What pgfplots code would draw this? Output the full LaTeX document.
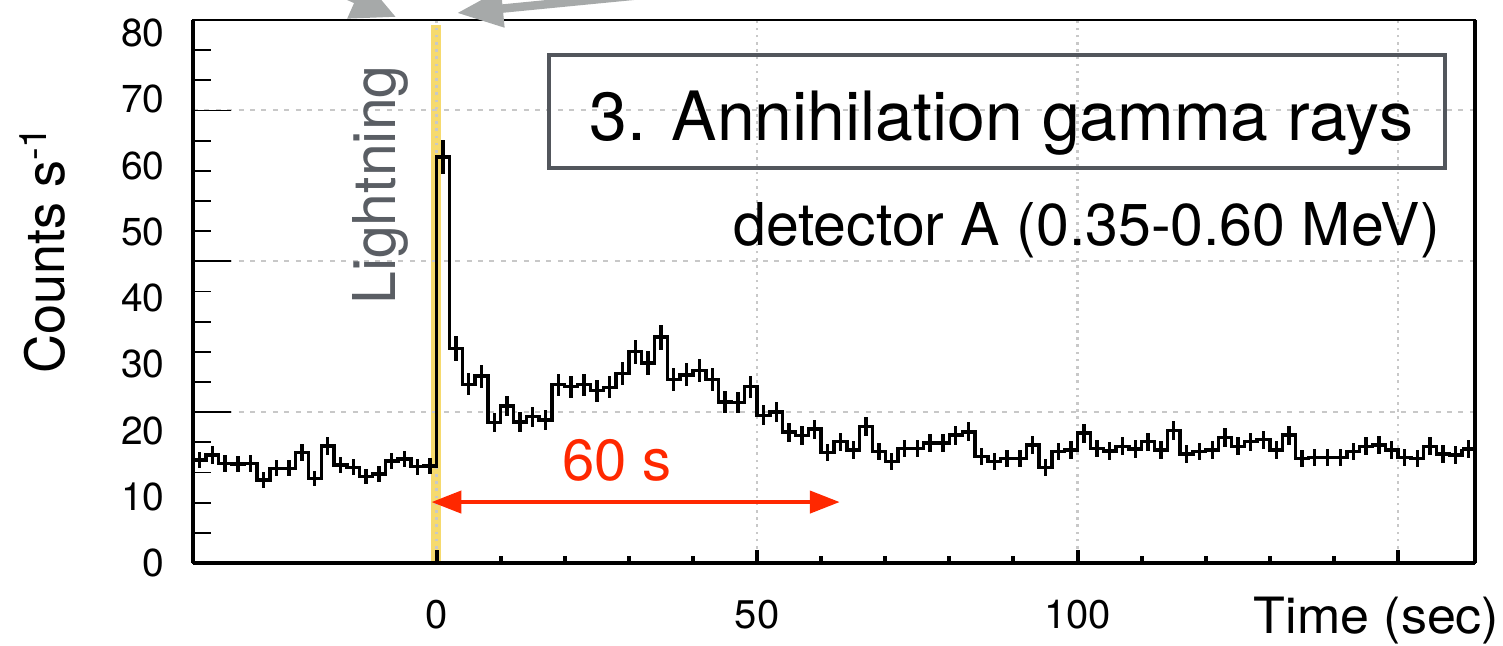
\documentclass[border=0pt]{standalone}
\usepackage{fontspec}
\setmainfont{TeX Gyre Heros}
\usepackage{pgfplots}
\pgfplotsset{compat=1.18}
\usepackage{pgfplotstable}
\usetikzlibrary{arrows.meta}
\definecolor{bandyellow}{RGB}{246,218,110}
\definecolor{arrowred}{RGB}{255,40,0}
\definecolor{annogray}{RGB}{166,169,169}
\definecolor{boxgray}{RGB}{82,86,92}
\definecolor{textgray}{RGB}{90,94,100}
\definecolor{gridgray}{RGB}{200,200,200}

% left bin edge, bin centre, rate (counts/s, in the units of the axis labels), error
\pgfplotstableread{
xl xc y err
-38 -37 15.55 1.27
-36 -35 16.3 1.30
-34 -33 15.05 1.25
-32 -31 14.94 1.25
-30 -29 15.05 1.25
-28 -27 12.53 1.14
-26 -25 14.29 1.22
-24 -23 14.29 1.22
-22 -21 16.65 1.32
-20 -19 12.78 1.15
-18 -17 17.66 1.36
-16 -15 14.79 1.24
-14 -13 14.44 1.23
-12 -11 13.03 1.17
-10 -9 13.43 1.18
-8 -7 15.4 1.27
-6 -5 15.7 1.28
-4 -3 14.54 1.23
-2 -1 14.64 1.23
0 1 61.3 2.53
2 3 32.4 1.84
4 5 26.97 1.68
6 7 28.2 1.71
8 9 21.2 1.49
10 11 23.7 1.57
12 13 21.3 1.49
14 15 22.1 1.52
16 17 21.6 1.50
18 19 26.9 1.68
20 21 26.6 1.66
22 23 26.9 1.68
24 25 26.0 1.65
26 27 26.5 1.66
28 29 28.6 1.73
30 31 31.9 1.82
32 33 30.2 1.78
34 35 34.1 1.89
36 37 27.7 1.70
38 39 28.4 1.72
40 41 29.1 1.74
42 43 27.7 1.70
44 45 24.3 1.59
46 47 24.2 1.59
48 49 26.6 1.66
50 51 22.3 1.52
52 53 22.8 1.54
54 55 19.75 1.43
56 57 19.25 1.42
58 59 20.2 1.45
60 61 16.65 1.32
62 63 18.3 1.38
64 65 17.06 1.33
66 67 20.6 1.47
68 69 16.8 1.32
70 71 15.3 1.26
72 73 17.3 1.34
74 75 17.3 1.34
76 77 18.1 1.37
78 79 18.1 1.37
80 81 19.3 1.42
82 83 19.8 1.43
84 85 16.05 1.29
86 87 15.3 1.26
88 89 15.8 1.29
90 91 15.8 1.29
92 93 17.8 1.36
94 95 14.4 1.23
96 97 16.8 1.32
98 99 17.06 1.33
100 101 19.6 1.43
102 103 17.3 1.34
104 105 16.9 1.33
106 107 17.6 1.36
108 109 17.2 1.34
110 111 18.3 1.38
112 113 17.06 1.33
114 115 19.97 1.44
116 117 16.45 1.31
118 119 16.8 1.32
120 121 17.06 1.33
122 123 18.97 1.41
124 125 17.6 1.36
126 127 18.3 1.38
128 129 18.6 1.39
130 131 17.06 1.33
132 133 19.3 1.42
134 135 15.8 1.29
136 137 15.9 1.29
138 139 15.9 1.29
140 141 15.9 1.29
142 143 16.8 1.32
144 145 17.6 1.36
146 147 17.8 1.36
148 149 17.06 1.33
150 151 15.9 1.29
152 153 15.8 1.29
154 155 17.6 1.36
156 157 16.45 1.31
158 159 16.3 1.30
160 161 17.2 1.34
}\histdata

\begin{document}
\begin{tikzpicture}
% axis 1: lightning band, y tick marks and dashed horizontal grid
\begin{axis}[
  at={(0pt,0pt)}, anchor=south west, scale only axis,
  width=641pt, height=271.5pt,
  xmin=-38, xmax=162, ymin=0, ymax=81.96,
  set layers,
  axis line style={draw=none},
  xtick=\empty,
  ytick={22.768,45.535,68.303},
  minor ytick={4.554,9.107,13.661,18.214,27.321,31.875,36.428,40.982,50.089,54.642,59.196,63.749,72.856,77.410},
  yticklabels={},
  ytick pos=left, tick align=inside,
  major tick length=19pt, minor tick length=9pt,
  tick style={black, line width=0.9pt},
  ymajorgrids,
  major grid style={gridgray, line width=1pt, dash pattern=on 2.5pt off 3.2pt},
]
\addplot[on layer=axis background, fill=bandyellow, draw=none] coordinates {(-0.9,81.2) (0.7,81.2)} \closedcycle;
\end{axis}

% axis 2: data, x ticks, labels
\begin{axis}[
  at={(0pt,0pt)}, anchor=south west, scale only axis,
  width=641pt, height=271.5pt,
  xmin=-38, xmax=162, ymin=0, ymax=81.96,
  set layers, clip=false,
  axis line style={black, line width=0.8pt},
  xtick={0,50,100,150}, xticklabels={0,50,100,{}},
  minor x tick num=4,
  ytick={0,10,...,80}, ytick style={draw=none},
  xtick pos=bottom, ytick pos=left, tick align=inside,
  major tick length=6.5pt, minor tick length=3.5pt,
  xtick style={black, line width=2pt},
  xmajorgrids,
  major grid style={gridgray, line width=1.3pt, dash pattern=on 1.3pt off 2.3pt},
  /pgf/number format/assume math mode=true,
  xticklabel style={font=\fontsize{20}{24}\selectfont, anchor=base, inner sep=0pt, yshift=-32.5pt},
  yticklabel style={font=\fontsize{19.5}{23}\selectfont, anchor=east, inner sep=0pt, xshift=-14pt},
]
\addplot[black, line width=1.7pt, const plot, line join=miter, mark=none] table[x=xl, y=y] {\histdata};
\addplot[black, line width=1.7pt, mark=none] coordinates {(160,17.2) (162,17.2)};
\addplot[draw=none, mark=none,
  error bars/.cd, y dir=both, y explicit, error mark=none,
  error bar style={draw=black, solid, line width=1.7pt}]
  table[x=xc, y=y, y error=err] {\histdata};

\draw[arrowred, line width=2.2pt, {Triangle[length=15pt,width=11pt]}-{Triangle[length=15pt,width=11pt]}]
  (axis cs:-0.8,9.2) -- (axis cs:62.9,9.2);

\draw[black, line width=2.3pt] (rel axis cs:0,0) -- (rel axis cs:0,1);
\draw[black, line width=1.6pt] (rel axis cs:0,0) -- (rel axis cs:1,0);
\draw[black, line width=1.6pt] (rel axis cs:1,0) -- (rel axis cs:1,1);
\end{axis}

% grey annotation arrows at the top (cut by the page edge)
\draw[annogray, line width=4.25pt, -{Triangle[length=22pt,width=20pt]}] (10pt,313.5pt) -- (101.5pt,273pt);
\draw[annogray, line width=4.25pt, -{Triangle[length=23pt,width=18pt]}] (253pt,286.8pt) -- (132pt,275pt);

% texts
\draw[boxgray, line width=2pt] (178pt,197.5pt) rectangle (626pt,254pt);
\node[font=\fontsize{34}{40}\selectfont, anchor=base, inner sep=0pt] at (404.25pt,211.5pt) {3. Annihilation gamma rays};
\node[font=\fontsize{29.5}{35}\selectfont, anchor=base east, inner sep=0pt] at (623.5pt,159pt) {detector A (0.35-0.60 MeV)};
\node[arrowred, font=\fontsize{29}{35}\selectfont, anchor=base, inner sep=0pt] at (212pt,41.5pt) {60 s};
\node[textgray, rotate=90, anchor=base, inner sep=0pt, font=\fontsize{29.5}{35}\selectfont] at (101pt,189pt) {Lightning};
\node[rotate=90, anchor=base, inner sep=0pt, font=\fontsize{27}{32}\selectfont] at (-64pt,156.5pt) {Counts s\textsuperscript{-1}};
\node[anchor=base, inner sep=0pt, xscale=1.04, font=\fontsize{25}{30}\selectfont] at (591.75pt,-35pt) {Time (sec)};

\pgfresetboundingbox
\path[use as bounding box] (-96.5pt,-41pt) rectangle (655pt,281.5pt);
\end{tikzpicture}
\end{document}
